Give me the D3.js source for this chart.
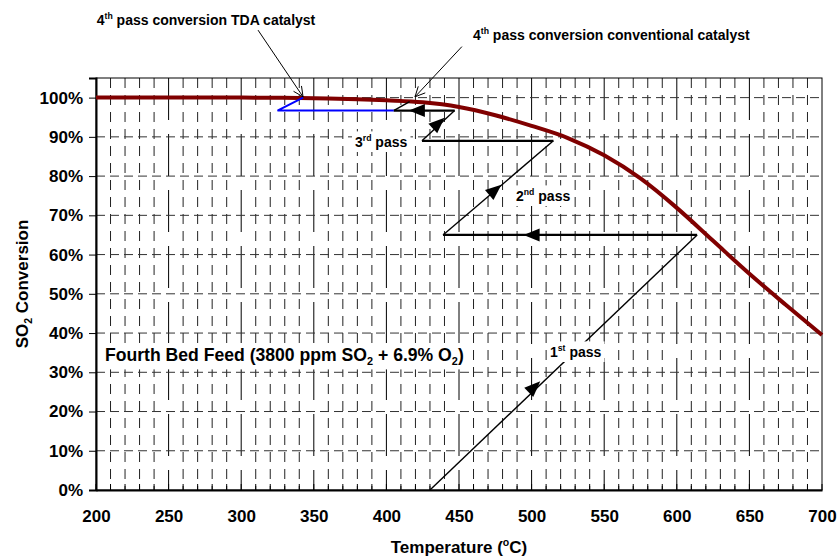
<!DOCTYPE html>
<html><head><meta charset="utf-8">
<script src="https://cdn.jsdelivr.net/npm/d3@7"></script>
<style>
body{margin:0;background:#fff;}
svg text{font-family:"Liberation Sans",Arial,sans-serif;font-weight:bold;fill:#000;}
</style></head><body>
<svg id="chart" width="840" height="558"></svg>
<script>
// ---- data ----
const xTickValues = [200,250,300,350,400,450,500,550,600,650,700];
const yTickValues = [0,0.1,0.2,0.3,0.4,0.5,0.6,0.7,0.8,0.9,1.0];
const equilibriumTemp = [200,250,300,325,340,360,380,400,425,450,475,500,525,550,575,600,625,650,675,700];
const equilibriumConv = [100,100,100,99.97,99.93,99.8,99.6,99.3,98.8,97.6,95.5,92.8,89.7,85.3,79.4,71.9,63.5,55.1,47.2,39.5];
const passTemp = [430,614,439,515,424.5,447,405];
const passConv = [0,65,65,89,89,96.7,96.7];
const passArrowSeg = [0,1,2,4,5];
const passArrowTemp = [502,500,475,436,421];
const passArrowConv = [26.3,65,76.5,93.5,96.7];
const conventionalTemp = [405,416];
const conventionalConv = [96.7,99.0];
const tdaTemp = [405,325,342.6];
const tdaConv = [96.7,96.7,100];
const noteTdaTemp = [311.6,342.6];
const noteTdaConv = [117.2,100.2];
const noteConvTemp = [452,419.7];
const noteConvConv = [113,100.2];

// ---- layout ----
const svg = d3.select("#chart");
const x = d3.scaleLinear().domain([200,700]).range([96,822]);
const y = d3.scaleLinear().domain([0,1.05]).range([490,78]);
const yp = v => y(v/100);

// grid
const g = svg.append("g");
g.selectAll(".vmin").data(d3.range(210,700,10).filter(d=>d%50!==0)).join("line")
  .attr("x1",d=>x(d)).attr("x2",d=>x(d)).attr("y1",y(1.05)).attr("y2",y(0))
  .attr("stroke","#222").attr("stroke-width",1).attr("stroke-dasharray","10,7");
g.selectAll(".vmaj").data(d3.range(250,700,50)).join("line")
  .attr("x1",d=>x(d)).attr("x2",d=>x(d)).attr("y1",y(1.05)).attr("y2",y(0))
  .attr("stroke","#000").attr("stroke-width",1).attr("stroke-dasharray","42,14");
g.selectAll(".h").data(yTickValues.filter(d=>d>0)).join("line")
  .attr("x1",x(200)).attr("x2",x(700)).attr("y1",d=>y(d)).attr("y2",d=>y(d))
  .attr("stroke","#333").attr("stroke-width",1).attr("stroke-dasharray","9,5");

// frame
svg.append("rect").attr("x",x(200)).attr("y",y(1.05)).attr("width",x(700)-x(200)).attr("height",y(0)-y(1.05))
  .attr("fill","none").attr("stroke","#000").attr("stroke-width",1);

// axes
const ya = svg.append("g").attr("transform",`translate(${x(200)},0)`)
  .call(d3.axisLeft(y).tickValues(yTickValues).tickFormat(d3.format(".0%")).tickSize(7).tickPadding(6));
ya.select(".domain").attr("stroke-width",2);
ya.selectAll("text").style("font-size","17px").attr("font-family",null);
const xa = svg.append("g").attr("transform",`translate(0,${y(0)})`)
  .call(d3.axisBottom(x).tickValues(xTickValues).tickSize(0).tickPadding(20));
xa.select(".domain").attr("stroke-width",2);
xa.selectAll("text").style("font-size","17px").attr("font-family",null);
svg.selectAll(".xmt").data(d3.range(200,701,10)).join("line")
  .attr("x1",d=>x(d)).attr("x2",d=>x(d)).attr("y1",y(0)).attr("y2",y(0)-6)
  .attr("stroke","#000").attr("stroke-width",1);

// equilibrium curve
const eq = equilibriumTemp.map((t,i)=>[t,equilibriumConv[i]]);
svg.append("path").datum(eq)
  .attr("d",d3.line().x(d=>x(d[0])).y(d=>yp(d[1])).curve(d3.curveMonotoneX))
  .attr("fill","none").attr("stroke","#800000").attr("stroke-width",4);

// pass segments
for(let i=0;i<passTemp.length-1;i++){
  const horiz = passConv[i]===passConv[i+1];
  svg.append("line").attr("x1",x(passTemp[i])).attr("y1",yp(passConv[i]))
    .attr("x2",x(passTemp[i+1])).attr("y2",yp(passConv[i+1]))
    .attr("stroke","#000").attr("stroke-width",horiz?2.2:1.4);
}
svg.append("line").attr("x1",x(conventionalTemp[0])).attr("y1",yp(conventionalConv[0]))
  .attr("x2",x(conventionalTemp[1])).attr("y2",yp(conventionalConv[1]))
  .attr("stroke","#000").attr("stroke-width",1.4);
const tda = tdaTemp.map((t,i)=>[t,tdaConv[i]]);
svg.append("path").datum(tda).attr("d",d3.line().x(d=>x(d[0])).y(d=>yp(d[1])))
  .attr("fill","none").attr("stroke","#0000ff").attr("stroke-width",2);

// filled arrowheads
passArrowSeg.forEach((s,k)=>{
  const dx = x(passTemp[s+1])-x(passTemp[s]);
  const dy = yp(passConv[s+1])-yp(passConv[s]);
  const ang = Math.atan2(dy,dx)*180/Math.PI;
  svg.append("path").attr("d","M8,0 L-8,-6.5 L-8,6.5 Z")
    .attr("transform",`translate(${x(passArrowTemp[k])},${yp(passArrowConv[k])}) rotate(${ang})`)
    .attr("fill","#000");
});

// rich text helper: superscripts / subscripts
function rich(sel, parts, size){
  let pending = 0;
  parts.forEach(p=>{
    const t = sel.append("tspan").text(p.t);
    let shift = 0;
    if(p.sup) shift = -size*0.4;
    if(p.sub) shift = size*0.25;
    const dy = pending + shift;
    if(dy!==0) t.attr("dy",dy);
    pending = -shift;
    t.style("font-size",(p.sup||p.sub ? size*0.62 : size)+"px");
  });
  return sel;
}
function label(px,py,parts,size,box){
  const grp = svg.append("g");
  const t = grp.append("text").attr("x",px).attr("y",py);
  rich(t,parts,size);
  if(box){
    const b = t.node().getBBox();
    grp.insert("rect","text").attr("x",b.x-3).attr("y",b.y-2).attr("width",b.width+6).attr("height",b.height+4).attr("fill","#fff");
  }
  return t;
}
label(x(200.5), 25, [{t:"4"},{t:"th",sup:true},{t:" pass conversion TDA catalyst"}], 14, false);
label(473, 40, [{t:"4"},{t:"th",sup:true},{t:" pass conversion conventional catalyst"}], 14, false);
label(355, 147, [{t:"3"},{t:"rd",sup:true},{t:" pass"}], 14, true);
label(516, 201, [{t:"2"},{t:"nd",sup:true},{t:" pass"}], 14, true);
label(550, 357, [{t:"1"},{t:"st",sup:true},{t:" pass"}], 14, true);
label(105, 361, [{t:"Fourth Bed Feed (3800 ppm SO"},{t:"2",sub:true},{t:" + 6.9% O"},{t:"2",sub:true},{t:")"}], 17.6, true);

// annotation arrows
function note(ts,cs){
  const x1=x(ts[0]),y1=yp(cs[0]),x2=x(ts[1]),y2=yp(cs[1]);
  svg.append("line").attr("x1",x1).attr("y1",y1).attr("x2",x2).attr("y2",y2).attr("stroke","#000").attr("stroke-width",1);
  const a = Math.atan2(y1-y2,x1-x2);
  [0.45,-0.45].forEach(o=>{
    svg.append("line").attr("x1",x2).attr("y1",y2)
      .attr("x2",x2+11*Math.cos(a+o)).attr("y2",y2+11*Math.sin(a+o)).attr("stroke","#000").attr("stroke-width",1);
  });
}
note(noteTdaTemp,noteTdaConv);
note(noteConvTemp,noteConvConv);

// axis titles
const yt = svg.append("text").attr("transform",`translate(28,${(y(0)+y(1.05))/2}) rotate(-90)`).attr("text-anchor","middle");
rich(yt,[{t:"SO"},{t:"2",sub:true},{t:" Conversion"}],17);
const xt = svg.append("text").attr("x",(x(200)+x(700))/2).attr("y",553).attr("text-anchor","middle");
rich(xt,[{t:"Temperature ("},{t:"o",sup:true},{t:"C)"}],17);
</script></body></html>
